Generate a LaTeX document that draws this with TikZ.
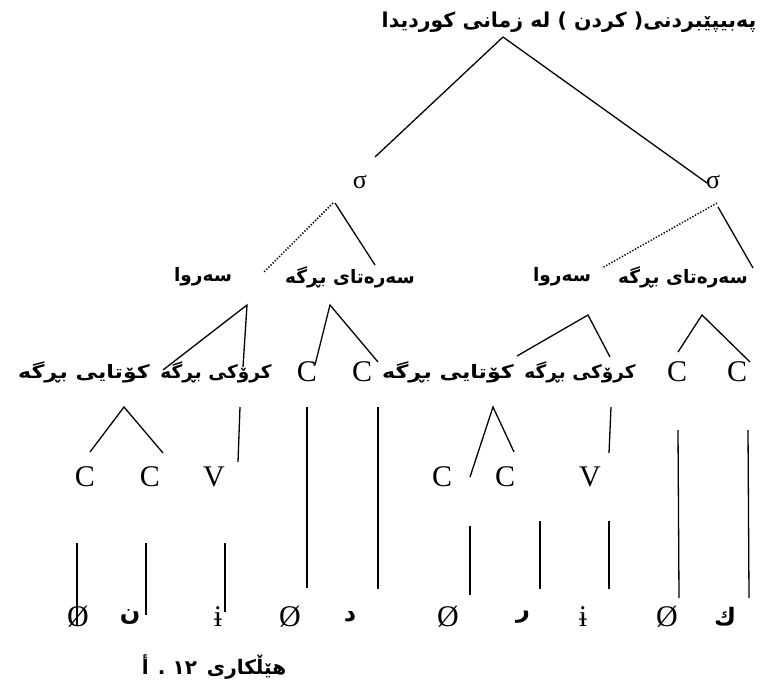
\documentclass[tikz,border=0pt]{standalone}
\usepackage{fontspec}
\usepackage{graphicx}
\TeXXeTstate=1
\setmainfont{Liberation Serif}
\newfontfamily\arfont[Script=Arabic]{DejaVu Sans}
\newcommand\rl[1]{\beginR #1\endR}
\newcommand\wide[1]{\scalebox{1.2}[1]{#1}}
\tikzset{
  ar/.style={inner sep=0pt, font=\arfont\bfseries\fontsize{18.5}{21}\selectfont},
  artitle/.style={inner sep=0pt, font=\arfont\bfseries\fontsize{20.5}{23}\selectfont},
  arbig/.style={inner sep=0pt, font=\arfont\bfseries\fontsize{24}{28}\selectfont},
  arcap/.style={inner sep=0pt, font=\arfont\bfseries\fontsize{20}{24}\selectfont},
  lat/.style={inner sep=0pt, font=\fontsize{30}{34}\selectfont},
  sig/.style={inner sep=0pt, font=\fontsize{26}{30}\selectfont},
  br/.style={line width=1.3pt},
  dotbr/.style={line width=1.5pt, dash pattern=on 1.3pt off 1.7pt},
}
\begin{document}
\begin{tikzpicture}[x=1pt,y=-1pt]
\useasboundingbox (0,0) rectangle (762,684);
% title
\node[artitle] (T) at (569,22) {\rl{پەبیپێبردنی( کردن ) لە زمانی کوردیدا}};
\coordinate (a0) at (503,37);
\node[sig] (s1) at (360,182) {σ};
\node[sig] (s2) at (713,182) {σ};
\coordinate (s1t) at (375,157);
\coordinate (s2t) at (707,183);
\draw[br] (a0) -- (s1t);
\draw[br] (a0) -- (s2t);
% row 3 labels
\node[ar] (R1) at (203,277) {\rl{سەروا}};
\node[ar] (O1) at (350,277) {\rl{سەرەتای بڕگە}};
\node[ar] (R2) at (562,277) {\rl{سەروا}};
\node[ar] (O2) at (683,277) {\rl{سەرەتای بڕگە}};
\coordinate (s1b) at (333,203); \coordinate (s1r) at (335,203);
\coordinate (r1t) at (263,273); \coordinate (o1t) at (375,265);
\draw[dotbr] (s1b) -- (r1t);
\draw[br] (s1r) -- (o1t);
\coordinate (s2b) at (717,203); \coordinate (s2r) at (718,207);
\coordinate (r2t) at (602,268); \coordinate (o2t) at (753,268);
\draw[dotbr] (s2b) -- (r2t);
\draw[br] (s2r) -- (o2t);
% row 4
\node[ar] (K1) at (84,372) {\wide{\rl{کۆتایی بڕگە}}};
\node[ar] (N1) at (216,372) {\rl{کرۆکی بڕگە}};
\node[lat] (C1) at (307,372) {C};
\node[lat] (C2) at (362,372) {C};
\node[ar] (K2) at (448,372) {\wide{\rl{کۆتایی بڕگە}}};
\node[ar] (N2) at (580,372) {\rl{کرۆکی بڕگە}};
\node[lat] (C3) at (677,372) {C};
\node[lat] (C4) at (737,372) {C};
% row 3 -> row 4 lines
\coordinate (r1a) at (247,305); \coordinate (r1l) at (163,370); \coordinate (r1r) at (243,367);
\draw[br] (r1l) -- (r1a) -- (r1r);
\coordinate (o1a) at (330,305); \coordinate (o1l) at (315,365); \coordinate (o1r) at (378,362);
\draw[br] (o1l) -- (o1a) -- (o1r);
\coordinate (r2a) at (588,315); \coordinate (r2l) at (517,356); \coordinate (r2r) at (610,357);
\draw[br] (r2l) -- (r2a) -- (r2r);
\coordinate (o2a) at (702,315); \coordinate (o2l) at (678,352); \coordinate (o2r) at (750,362);
\draw[br] (o2l) -- (o2a) -- (o2r);
% row 5
\node[lat] (D1) at (85,477) {C};
\node[lat] (D2) at (150,477) {C};
\node[lat] (D3) at (214,477) {V};
\node[lat] (D4) at (442,477) {C};
\node[lat] (D5) at (505,477) {C};
\node[lat] (D6) at (590,477) {V};
% row 4 -> row 5 lines
\coordinate (k1a) at (124,407); \coordinate (k1l) at (90,452); \coordinate (k1r) at (163,453);
\draw[br] (k1l) -- (k1a) -- (k1r);
\coordinate (n1a) at (240,407); \coordinate (n1b) at (238,462);
\draw[br] (n1a) -- (n1b);
\coordinate (c1a) at (307,407); \coordinate (c1b) at (307,588);
\coordinate (c2a) at (378,407); \coordinate (c2b) at (378,589);
\draw[br] (c1a) -- (c1b);
\draw[br] (c2a) -- (c2b);
\coordinate (k2a) at (493,407); \coordinate (k2l) at (470,477); \coordinate (k2r) at (514,452);
\draw[br] (k2l) -- (k2a) -- (k2r);
\coordinate (n2a) at (611,407); \coordinate (n2b) at (609,453);
\draw[br] (n2a) -- (n2b);
\coordinate (c3a) at (678,430); \coordinate (c3b) at (679,598);
\coordinate (c4a) at (748,430); \coordinate (c4b) at (749,598);
\draw[br] (c3a) -- (c3b);
\draw[br] (c4a) -- (c4b);
% bottom row
\node[lat] (E1) at (78,617) {Ø};
\node[arbig] (E2) at (130,617) {\rl{ن}};
\node[lat] (E3) at (218,617) {ɨ};
\node[lat] (E4) at (290,617) {Ø};
\node[arbig] (E5) at (350,617) {\rl{د}};
\node[lat] (E6) at (448,617) {Ø};
\node[arbig] (E7) at (523,617) {\rl{ر}};
\node[lat] (E8) at (583,617) {ɨ};
\node[lat] (E9) at (667,617) {Ø};
\node[arbig] (E10) at (725,617) {\rl{ك}};
% short lines above bottom row
\coordinate (e1a) at (77,543); \coordinate (e1b) at (77,625);
\coordinate (e2a) at (146,543); \coordinate (e2b) at (146,615);
\coordinate (e3a) at (225,543); \coordinate (e3b) at (225,612);
\coordinate (e6a) at (470,526); \coordinate (e6b) at (470,595);
\coordinate (e7a) at (540,521); \coordinate (e7b) at (540,589);
\coordinate (e8a) at (609,521); \coordinate (e8b) at (609,589);
\draw[br] (e1a) -- (e1b);
\draw[br] (e2a) -- (e2b);
\draw[br] (e3a) -- (e3b);
\draw[br] (e6a) -- (e6b);
\draw[br] (e7a) -- (e7b);
\draw[br] (e8a) -- (e8b);
% caption
\node[arcap] (cap) at (214,667) {\rl{هێڵکاری\hspace{10pt}١٢ . أ}};
\end{tikzpicture}
\end{document}
